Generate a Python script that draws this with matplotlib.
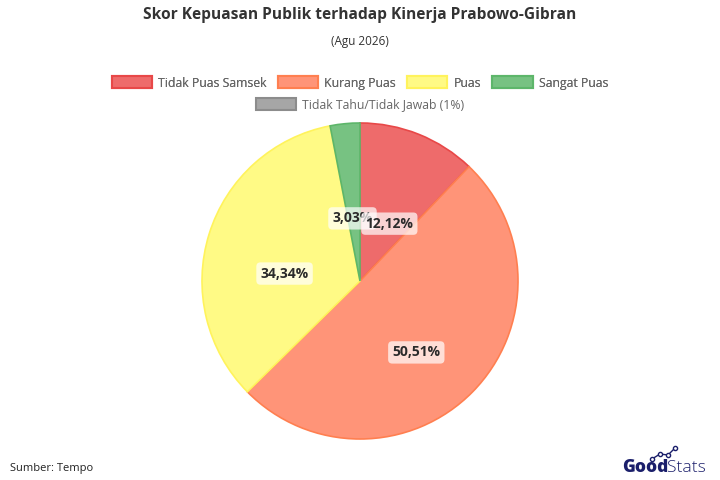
import matplotlib
matplotlib.use("Agg")
from matplotlib import pyplot as plt
from matplotlib.patches import Patch
from matplotlib.lines import Line2D
from matplotlib.transforms import ScaledTranslation

plt.rcParams['font.family'] = ['Open Sans', 'DejaVu Sans']

# data (answer counts; percentages shown are of the visible total)
labels = ['Tidak Puas Samsek', 'Kurang Puas', 'Puas', 'Sangat Puas']
values = [12, 50, 34, 3]
fills = ['#EE6B6B', '#FF9478', '#FFFA85', '#77C282']
edges = ['#E84848', '#FF7F50', '#FFF35C', '#5DB66A']
hidden_label = 'Tidak Tahu/Tidak Jawab (1%)'
hidden_color = '#A6A6A6'
hidden_edge = '#8C8C8C'

fig = plt.figure(figsize=(7.2, 4.8), dpi=100)

# pie axes: center at (360, 281) px, radius 158 px
ax = fig.add_axes([0.5 - 158 / 720, 1 - 281 / 480 - 158 / 480, 316 / 720, 316 / 480])
wedges, texts, autotexts = ax.pie(values, colors=fills, startangle=90, counterclock=False,
                                  radius=1, autopct=lambda p: ('%.2f%%' % p).replace('.', ','),
                                  pctdistance=0.5,
                                  wedgeprops=dict(linewidth=1.2))
for w, e in zip(wedges, edges):
    w.set_edgecolor(e)
shift = ScaledTranslation(0, -0.16, fig.dpi_scale_trans)
for i, t in enumerate(autotexts):
    t.set_transform(ax.transData + shift)
    t.set_fontsize(10)
    t.set_fontweight('bold')
    t.set_color('#2b2b2b')
    t.set_zorder(10 - i)  # first slice's label sits on top, as in the source
    t.set_bbox(dict(boxstyle='round,pad=0.3,rounding_size=0.3', fc='white', ec='none', alpha=0.7))
ax.set_xlim(-1, 1)
ax.set_ylim(-1, 1)
ax.axis('off')

# titles
fig.text(0.5, 1 - 15 / 480, 'Skor Kepuasan Publik terhadap Kinerja Prabowo-Gibran',
         ha='center', va='center', fontsize=11.2, fontweight='bold', color='#333333')
fig.text(0.5, 1 - 41 / 480, '(Agu 2026)', ha='center', va='center', fontsize=8.5, color='#333333')

# legend, two rows
h1 = [Patch(facecolor=f, edgecolor=e, linewidth=1.5) for f, e in zip(fills, edges)]
leg1 = fig.legend(h1, labels, loc='center', bbox_to_anchor=(0.5, 1 - 83 / 480), ncol=4,
                  frameon=False, fontsize=8.8, handlelength=3.3, handleheight=1.1,
                  columnspacing=0.9, handletextpad=0.5, labelcolor='#666666')
h2 = [Patch(facecolor=hidden_color, edgecolor=hidden_edge, linewidth=1.5)]
fig.legend(h2, [hidden_label], loc='center', bbox_to_anchor=(0.5, 1 - 105 / 480),
           frameon=False, fontsize=8.8, handlelength=3.3, handleheight=1.1,
           handletextpad=0.5, labelcolor='#666666')
fig.add_artist(leg1)

# footer
fig.text(10 / 720, 1 - 469 / 480, 'Sumber: Tempo', ha='left', va='center', fontsize=8, color='#222222')
fig.text(668 / 720, 1 - 468 / 480, 'Good', ha='right', va='center', fontsize=12.5,
         fontweight='heavy', color='#1B1F6B')
fig.text(667 / 720, 1 - 468 / 480, 'Stats', ha='left', va='center', fontsize=12.5,
         fontweight='light', color='#1B1F6B')
fig.add_artist(Line2D([652 / 720, 660 / 720, 668 / 720, 675 / 720],
                      [1 - 459 / 480, 1 - 454 / 480, 1 - 455 / 480, 1 - 448 / 480],
                      color='#1B1F6B', lw=1, marker='o', ms=3, mfc='white', mec='#1B1F6B',
                      transform=fig.transFigure))

fig.savefig('out.png', dpi=100)
